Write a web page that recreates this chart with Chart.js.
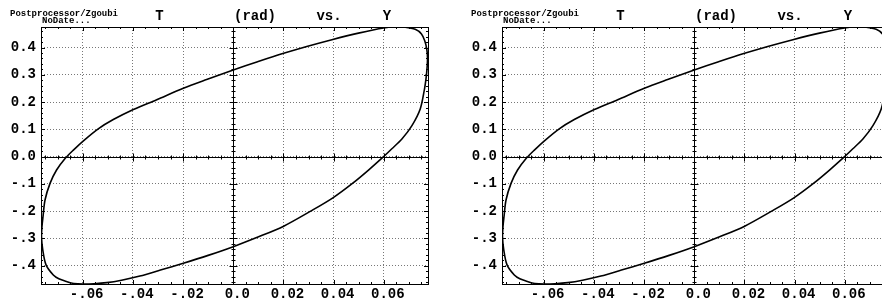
<!DOCTYPE html>
<html>
<head>
<meta charset="utf-8">
<script src="https://cdn.jsdelivr.net/npm/chart.js@4.4.1/dist/chart.umd.min.js"></script>
<style>
html, body { margin: 0; padding: 0; background: #fff; overflow: hidden; width: 882px; height: 302px; }
.panel { position: absolute; top: 0; width: 441px; height: 302px; }
#p1 { left: 0; }
#p2 { left: 461px; }
</style>
</head>
<body>
<div class="panel" id="p1"><canvas id="c1" width="441" height="302"></canvas></div>
<div class="panel" id="p2"><canvas id="c2" width="441" height="302"></canvas></div>
<script>
// T (rad) vs. Y, closed loop
const curveX = [0, 0.0097, 0.0194, 0.0293, 0.0393, 0.0499, 0.0599, 0.0645, 0.0685, 0.0725,
    0.0750, 0.0763, 0.0771, 0.0774, 0.0772, 0.0768, 0.0762, 0.0745, 0.0712, 0.0672,
    0.0632, 0.0599, 0.0539, 0.0475, 0.0397, 0.0312, 0.0201, 0.0101, 0, -0.0100,
    -0.0199, -0.0290, -0.0372, -0.0445, -0.0504, -0.0555, -0.0598, -0.0635, -0.0664, -0.0695,
    -0.0717, -0.0746, -0.0759, -0.0764, -0.0762, -0.0758, -0.0750, -0.0730, -0.0704, -0.0670,
    -0.0637, -0.0597, -0.0538, -0.0478, -0.0398, -0.0305, -0.0199, -0.0106, 0];
const curveY = [0.318, 0.348, 0.377, 0.404, 0.429, 0.453, 0.472, 0.4755, 0.4745, 0.467,
    0.450, 0.425, 0.395, 0.360, 0.322, 0.285, 0.248, 0.175, 0.114, 0.065,
    0.029, 0.0, -0.049, -0.098, -0.151, -0.198, -0.255, -0.294, -0.330, -0.362,
    -0.391, -0.416, -0.438, -0.453, -0.462, -0.466, -0.467, -0.465, -0.458, -0.448,
    -0.434, -0.397, -0.342, -0.294, -0.255, -0.220, -0.159, -0.098, -0.049, -0.007,
    0.024, 0.058, 0.102, 0.136, 0.173, 0.209, 0.251, 0.283, 0.318];

const xTicks = [-0.06, -0.04, -0.02, 0, 0.02, 0.04, 0.06];
const xTickLabels = ['-.06', '-.04', '-.02', '0.0', '0.02', '0.04', '0.06'];
const yTicks = [0.4, 0.3, 0.2, 0.1, 0, -0.1, -0.2, -0.3, -0.4];
const yTickLabels = ['0.4', '0.3', '0.2', '0.1', '0.0', '-.1', '-.2', '-.3', '-.4'];

const xRange = [-0.0766, 0.0776];
const yRange = [-0.467, 0.4755];

const mono = '"Liberation Mono", "DejaVu Sans Mono", monospace';

const decor = {
    id: 'decor',
    beforeDatasetsDraw(chart) {
        const { ctx, chartArea: a, scales: { x, y } } = chart;
        const x0 = Math.round(x.getPixelForValue(0)) + 0.5;
        const y0 = Math.round(y.getPixelForValue(0)) + 0.5;
        ctx.save();
        ctx.strokeStyle = '#000';
        ctx.lineWidth = 1;
        ctx.beginPath();
        ctx.moveTo(x0, a.top); ctx.lineTo(x0, a.bottom);
        ctx.moveTo(a.left, y0); ctx.lineTo(a.right, y0);
        // minor ticks every 0.005 in x, major every 0.02
        for (let i = Math.ceil(xRange[0] / 0.005); i <= Math.floor(xRange[1] / 0.005); i++) {
            const px = Math.round(x.getPixelForValue(i * 0.005)) + 0.5;
            const len = i % 4 === 0 ? 4 : 2;
            ctx.moveTo(px, a.top); ctx.lineTo(px, a.top + len);
            ctx.moveTo(px, a.bottom); ctx.lineTo(px, a.bottom - len);
            ctx.moveTo(px, y0 - len); ctx.lineTo(px, y0 + len);
        }
        // minor ticks every 0.02 in y, major every 0.1
        for (let i = Math.ceil(yRange[0] / 0.02); i <= Math.floor(yRange[1] / 0.02); i++) {
            const py = Math.round(y.getPixelForValue(i * 0.02)) + 0.5;
            const len = i % 5 === 0 ? 4 : 2;
            ctx.moveTo(a.left, py); ctx.lineTo(a.left + len, py);
            ctx.moveTo(a.right, py); ctx.lineTo(a.right - len, py);
            ctx.moveTo(x0 - len, py); ctx.lineTo(x0 + len, py);
        }
        ctx.stroke();
        ctx.restore();
    },
    afterDraw(chart) {
        const { ctx, chartArea: a } = chart;
        ctx.save();
        ctx.strokeStyle = '#000';
        ctx.lineWidth = 1;
        ctx.strokeRect(Math.round(a.left) + 0.5, Math.round(a.top) + 0.5,
            Math.round(a.right - a.left), Math.round(a.bottom - a.top));
        ctx.fillStyle = '#000';
        ctx.textBaseline = 'alphabetic';
        ctx.font = 'bold 9px ' + mono;
        ctx.textAlign = 'left';
        ctx.fillText('Postprocessor/Zgoubi', 10, 16);
        ctx.fillText('NoDate...', 42, 23);
        ctx.font = 'bold 14px ' + mono;
        ctx.textAlign = 'center';
        ctx.fillText('T', 159.5, 20);
        ctx.fillText('(rad)', 255, 20);
        ctx.fillText('vs.', 329, 20);
        ctx.fillText('Y', 387, 20);
        ctx.restore();
    }
};

function makeChart(id) {
    const points = curveX.map((v, i) => ({ x: v, y: curveY[i] }));
    return new Chart(document.getElementById(id), {
        type: 'scatter',
        data: {
            datasets: [{
                data: points,
                showLine: true,
                borderColor: '#000',
                borderWidth: 1.6,
                pointRadius: 0,
                tension: 0.3,
                fill: false
            }]
        },
        options: {
            responsive: false,
            animation: false,
            devicePixelRatio: 1,
            layout: { padding: { top: 27, right: 13, left: 0, bottom: 0 } },
            plugins: { legend: { display: false }, tooltip: { enabled: false } },
            scales: {
                x: {
                    type: 'linear',
                    min: xRange[0],
                    max: xRange[1],
                    afterBuildTicks: s => { s.ticks = xTicks.map(v => ({ value: v })); },
                    afterFit: s => { s.height = 18; },
                    grid: { color: '#777', drawTicks: false, lineWidth: 1 },
                    border: { display: false, dash: [1, 2] },
                    ticks: {
                        color: '#000',
                        font: { family: mono, size: 14, weight: 'bold' },
                        padding: 2,
                        labelOffset: 4,
                        maxRotation: 0,
                        autoSkip: false,
                        callback: (v, i) => xTickLabels[i]
                    }
                },
                y: {
                    type: 'linear',
                    min: yRange[0],
                    max: yRange[1],
                    afterBuildTicks: s => { s.ticks = yTicks.map(v => ({ value: v })); },
                    afterFit: s => { s.width = 41; },
                    grid: { color: '#777', drawTicks: false, lineWidth: 1 },
                    border: { display: false, dash: [1, 2] },
                    ticks: {
                        color: '#000',
                        font: { family: mono, size: 14, weight: 'bold' },
                        padding: 5,
                        autoSkip: false,
                        callback: (v, i) => yTickLabels[i]
                    }
                }
            }
        },
        plugins: [decor]
    });
}

makeChart('c1');
makeChart('c2');
</script>
</body>
</html>
